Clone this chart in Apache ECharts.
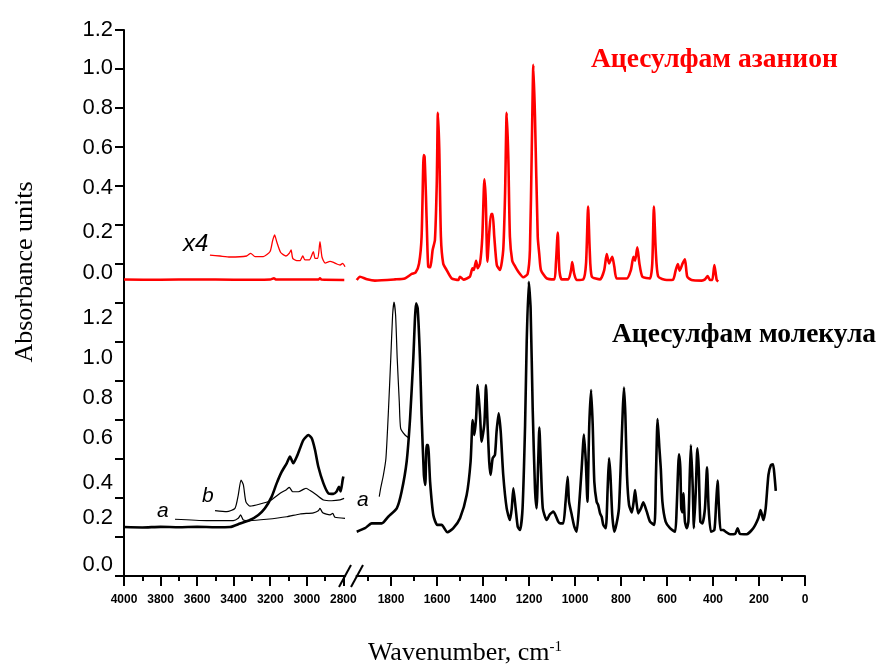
<!DOCTYPE html>
<html><head><meta charset="utf-8">
<script src="https://cdn.jsdelivr.net/npm/echarts@6/dist/echarts.min.js"></script>
<style>html,body{margin:0;padding:0;background:#fff}#c{width:883px;height:665px}</style>
</head><body><div id="c"></div><script>
// ---- data (wavenumber, cm-1 ; plotted absorbance in stacked-axis units) ----
const anionLeft = [[4000,1.52],[3800,1.519],[3600,1.521],[3400,1.519],[3200,1.521],[3180,1.527],[3170,1.521],[3000,1.52],[2935,1.521],[2928,1.527],[2920,1.52],[2795,1.518]];
const anionX4 = [[3530,1.646],[3475,1.641],[3420,1.636],[3329,1.641],[3307,1.655],[3283,1.638],[3238,1.638],[3201,1.664],[3187,1.72],[3176,1.749],[3165,1.715],[3143,1.659],[3114,1.641],[3096,1.655],[3086,1.672],[3077,1.629],[3055,1.617],[3037,1.617],[3022,1.641],[3010,1.621],[2986,1.621],[2964,1.663],[2955,1.629],[2940,1.629],[2928,1.714],[2917,1.636],[2900,1.605],[2873,1.613],[2858,1.61],[2836,1.6],[2818,1.595],[2804,1.603],[2791,1.586]];
const anionRight = [[1949,1.518],[1935,1.535],[1904,1.522],[1870,1.515],[1783,1.521],[1740,1.526],[1710,1.549],[1693,1.556],[1678,1.603],[1667,1.74],[1660,2.1],[1658,2.159],[1654,2.15],[1648,1.95],[1643,1.74],[1638,1.586],[1629,1.583],[1619,1.672],[1609,1.723],[1601,2.014],[1596,2.376],[1590,2.185],[1583,1.74],[1573,1.603],[1558,1.569],[1536,1.526],[1507,1.518],[1500,1.535],[1485,1.52],[1457,1.535],[1446,1.578],[1440,1.569],[1430,1.617],[1423,1.578],[1413,1.603],[1403,1.74],[1394,2.034],[1388,1.928],[1381,1.612],[1372,1.774],[1365,1.856],[1358,1.856],[1351,1.74],[1340,1.595],[1326,1.569],[1312,1.672],[1304,1.962],[1297,2.376],[1290,2.15],[1283,1.74],[1273,1.617],[1264,1.595],[1247,1.561],[1225,1.532],[1206,1.549],[1196,1.672],[1188,2.185],[1181,2.621],[1174,2.356],[1162,1.74],[1155,1.646],[1148,1.569],[1123,1.526],[1090,1.521],[1083,1.603],[1075,1.761],[1068,1.569],[1058,1.521],[1029,1.521],[1017,1.569],[1012,1.61],[1004,1.552],[993,1.518],[964,1.521],[952,1.603],[943,1.894],[936,1.672],[927,1.535],[891,1.521],[873,1.569],[862,1.651],[852,1.603],[838,1.637],[829,1.586],[819,1.526],[775,1.526],[757,1.569],[746,1.637],[739,1.617],[729,1.685],[720,1.603],[707,1.535],[674,1.526],[664,1.603],[657,1.894],[649,1.672],[638,1.535],[601,1.518],[573,1.521],[562,1.569],[553,1.6],[545,1.566],[532,1.603],[522,1.624],[512,1.535],[493,1.518],[449,1.515],[435,1.521],[423,1.538],[413,1.518],[403,1.518],[394,1.595],[384,1.518],[377,1.51]];
const molLeft = [[4000,0.251],[3900,0.249],[3800,0.252],[3700,0.25],[3600,0.252],[3500,0.25],[3420,0.251],[3365,0.269],[3311,0.287],[3265,0.313],[3229,0.347],[3192,0.407],[3165,0.475],[3137,0.535],[3110,0.578],[3092,0.612],[3083,0.595],[3074,0.578],[3055,0.612],[3037,0.655],[3019,0.697],[2991,0.723],[2973,0.706],[2955,0.646],[2937,0.56],[2909,0.475],[2882,0.424],[2855,0.421],[2837,0.433],[2824,0.458],[2815,0.433],[2804,0.492],[2800,0.51]];
const molA = [[3721,0.291],[3548,0.284],[3402,0.284],[3375,0.296],[3362,0.313],[3347,0.287],[3311,0.284],[3220,0.291],[3110,0.304],[3037,0.318],[2964,0.324],[2937,0.334],[2928,0.347],[2913,0.324],[2873,0.313],[2858,0.321],[2846,0.301],[2791,0.296]];
const molB = [[3502,0.335],[3438,0.33],[3393,0.347],[3375,0.415],[3360,0.492],[3347,0.467],[3333,0.38],[3311,0.358],[3256,0.369],[3201,0.386],[3146,0.424],[3110,0.444],[3096,0.455],[3077,0.432],[3046,0.432],[3019,0.444],[3004,0.45],[2982,0.438],[2946,0.415],[2909,0.39],[2864,0.386],[2818,0.39],[2796,0.398]];
const molRight = [[1949,0.227],[1913,0.245],[1884,0.27],[1840,0.27],[1812,0.304],[1775,0.347],[1754,0.432],[1732,0.586],[1717,0.809],[1703,1.116],[1691,1.398],[1684,1.372],[1674,1.116],[1667,0.826],[1657,0.518],[1651,0.467],[1645,0.672],[1639,0.672],[1630,0.483],[1616,0.313],[1599,0.262],[1580,0.262],[1555,0.224],[1529,0.245],[1500,0.296],[1471,0.415],[1454,0.586],[1445,0.8],[1438,0.723],[1430,0.809],[1423,0.979],[1413,0.826],[1406,0.689],[1394,0.783],[1387,0.979],[1380,0.774],[1373,0.586],[1367,0.518],[1358,0.604],[1348,0.621],[1341,0.74],[1332,0.834],[1323,0.74],[1312,0.518],[1297,0.347],[1283,0.287],[1275,0.347],[1268,0.45],[1258,0.347],[1249,0.253],[1239,0.236],[1228,0.347],[1217,0.774],[1210,1.201],[1201,1.509],[1193,1.372],[1184,0.859],[1174,0.45],[1167,0.347],[1160,0.586],[1155,0.761],[1149,0.586],[1140,0.347],[1123,0.287],[1109,0.317],[1094,0.33],[1073,0.279],[1065,0.27],[1051,0.27],[1041,0.381],[1032,0.509],[1026,0.381],[1014,0.313],[1003,0.253],[993,0.227],[983,0.347],[971,0.552],[961,0.726],[953,0.586],[946,0.381],[938,0.774],[930,0.954],[923,0.774],[916,0.483],[906,0.381],[899,0.364],[891,0.321],[884,0.304],[877,0.262],[866,0.245],[858,0.45],[852,0.604],[846,0.518],[838,0.313],[829,0.227],[819,0.27],[809,0.347],[800,0.604],[792,0.859],[787,0.966],[781,0.826],[774,0.518],[765,0.364],[753,0.326],[745,0.381],[739,0.441],[733,0.381],[725,0.321],[713,0.347],[703,0.378],[688,0.33],[674,0.279],[655,0.262],[648,0.518],[641,0.805],[633,0.655],[627,0.552],[620,0.381],[606,0.279],[587,0.245],[565,0.227],[558,0.347],[548,0.624],[542,0.552],[538,0.347],[533,0.326],[529,0.424],[522,0.279],[514,0.245],[507,0.279],[501,0.518],[496,0.672],[488,0.45],[483,0.245],[475,0.432],[468,0.655],[462,0.552],[455,0.279],[446,0.27],[435,0.347],[426,0.557],[419,0.347],[409,0.227],[394,0.236],[386,0.381],[380,0.489],[374,0.347],[367,0.236],[355,0.236],[345,0.227],[326,0.214],[304,0.216],[293,0.245],[283,0.216],[254,0.214],[225,0.245],[203,0.296],[193,0.338],[181,0.287],[171,0.347],[159,0.518],[148,0.569],[139,0.573],[133,0.518],[127,0.436]];
const molARight = [[1851,0.407],[1845,0.45],[1833,0.518],[1822,0.604],[1812,0.826],[1801,1.116],[1793,1.338],[1787,1.404],[1780,1.338],[1773,1.116],[1764,0.894],[1758,0.757],[1739,0.723],[1720,0.706]];

// tick labels
const yTickValues = [0,0.2,0.4,0.6,0.8,1.0,1.2,1.4,1.6,1.8,2.0,2.2,2.4,2.6,2.8];
const yLabelPos = [2.8,2.604,2.4,2.195,1.99,1.766,1.554,1.323,1.118,0.913,0.708,0.477,0.297,0.056];
const yLabelText = ['1.2','1.0','0.8','0.6','0.4','0.2','0.0','1.2','1.0','0.8','0.6','0.4','0.2','0.0'];
const xLeftMajor = [2800,3000,3200,3400,3600,3800,4000];
const xLeftMinor = [2900,3100,3300,3500,3700,3900];
const xRightMajor = [0,200,400,600,800,1000,1200,1400,1600,1800];
const xRightMinor = [100,300,500,700,900,1100,1300,1500,1700,1900];

const chart = echarts.init(document.getElementById('c'));
const K = '#000';
const sans = 'Liberation Sans, Arial, sans-serif';
const serif = 'Liberation Serif, Times New Roman, serif';

function xMajor(grid, min, max, ticks) {
  return {type:'value', gridIndex:grid, position:'bottom', min:min, max:max, inverse:true,
    axisLine:{show:true, lineStyle:{color:K, width:2}},
    axisTick:{show:true, customValues:ticks, length:10, lineStyle:{color:K, width:2}},
    axisLabel:{show:true, customValues:ticks, margin:18, color:K, fontFamily:sans, fontWeight:'bold', fontSize:12,
      formatter:function(v){ return String(v); }},
    splitLine:{show:false}};
}
function xMinor(grid, min, max, ticks) {
  return {type:'value', gridIndex:grid, position:'bottom', min:min, max:max, inverse:true,
    axisLine:{show:false},
    axisTick:{show:true, customValues:ticks, length:5, lineStyle:{color:K, width:2}},
    axisLabel:{show:false}, splitLine:{show:false}};
}
function line(data, xi, yi, color, w) {
  return {type:'line', data:data, xAxisIndex:xi, yAxisIndex:yi, showSymbol:false, symbol:'none',
    smooth:0.2, lineStyle:{color:color, width:w, join:'round'}, silent:true};
}

chart.setOption({
  animation:false,
  backgroundColor:'#fff',
  grid:[
    {left:124, top:30, width:221.2, height:546},
    {left:356.5, top:30, width:448.5, height:546}
  ],
  xAxis:[
    xMajor(0, 2790, 4000, xLeftMajor),
    xMinor(0, 2790, 4000, xLeftMinor),
    xMajor(1, 0, 1950, xRightMajor),
    xMinor(1, 0, 1950, xRightMinor)
  ],
  yAxis:[
    {type:'value', gridIndex:0, min:0, max:2.8,
      axisLine:{show:true, lineStyle:{color:K, width:2}},
      axisTick:{show:true, customValues:yTickValues, length:9, lineStyle:{color:K, width:2}},
      axisLabel:{show:true, customValues:yLabelPos, margin:11, color:K, fontFamily:sans, fontSize:22,
        formatter:function(v){ for (let i=0;i<yLabelPos.length;i++){ if (Math.abs(yLabelPos[i]-v)<1e-6) return yLabelText[i]; } return ''; }},
      splitLine:{show:false}},
    {type:'value', gridIndex:1, min:0, max:2.8, show:false, splitLine:{show:false}}
  ],
  series:[
    line(anionLeft, 0, 0, '#ff0000', 2.5),
    line(anionX4, 0, 0, '#ff0000', 1.3),
    line(molA, 0, 0, K, 1.2),
    line(molB, 0, 0, K, 1.2),
    line(molLeft, 0, 0, K, 2.6),
    line(anionRight, 2, 1, '#ff0000', 2.6),
    line(molARight, 2, 1, K, 1.2),
    line(molRight, 2, 1, K, 2.6)
  ],
  graphic:[
    {type:'line', shape:{x1:339, y1:587, x2:351, y2:565}, style:{stroke:K, lineWidth:2}},
    {type:'line', shape:{x1:351, y1:587, x2:363, y2:565}, style:{stroke:K, lineWidth:2}},
    {type:'text', x:591, y:60, style:{text:'Ацесулфам азанион', fill:'#ff0000', fontFamily:serif, fontWeight:'bold', fontSize:27.5, align:'left', verticalAlign:'middle'}},
    {type:'text', x:612, y:335, style:{text:'Ацесулфам молекула', fill:K, fontFamily:serif, fontWeight:'bold', fontSize:27.5, align:'left', verticalAlign:'middle'}},
    {type:'text', x:183, y:244, style:{text:'x4', fill:K, fontFamily:sans, fontStyle:'italic', fontSize:24, align:'left', verticalAlign:'middle'}},
    {type:'text', x:157, y:511, style:{text:'a', fill:K, fontFamily:sans, fontStyle:'italic', fontSize:21, align:'left', verticalAlign:'middle'}},
    {type:'text', x:202, y:496, style:{text:'b', fill:K, fontFamily:sans, fontStyle:'italic', fontSize:21, align:'left', verticalAlign:'middle'}},
    {type:'text', x:357, y:500, style:{text:'a', fill:K, fontFamily:sans, fontStyle:'italic', fontSize:21, align:'left', verticalAlign:'middle'}},
    {type:'text', x:25, y:272, rotation:Math.PI/2, style:{text:'Absorbance units', fill:K, fontFamily:serif, fontSize:26, align:'center', verticalAlign:'middle'}},
    {type:'text', x:465, y:653, style:{text:'Wavenumber, cm{sup|-1}', fill:K, fontFamily:serif, fontSize:26, align:'center', verticalAlign:'middle',
      rich:{sup:{fontSize:15, fontFamily:serif, verticalAlign:'top', fill:K, padding:[0,0,12,0]}}}}
  ]
});
</script></body></html>
